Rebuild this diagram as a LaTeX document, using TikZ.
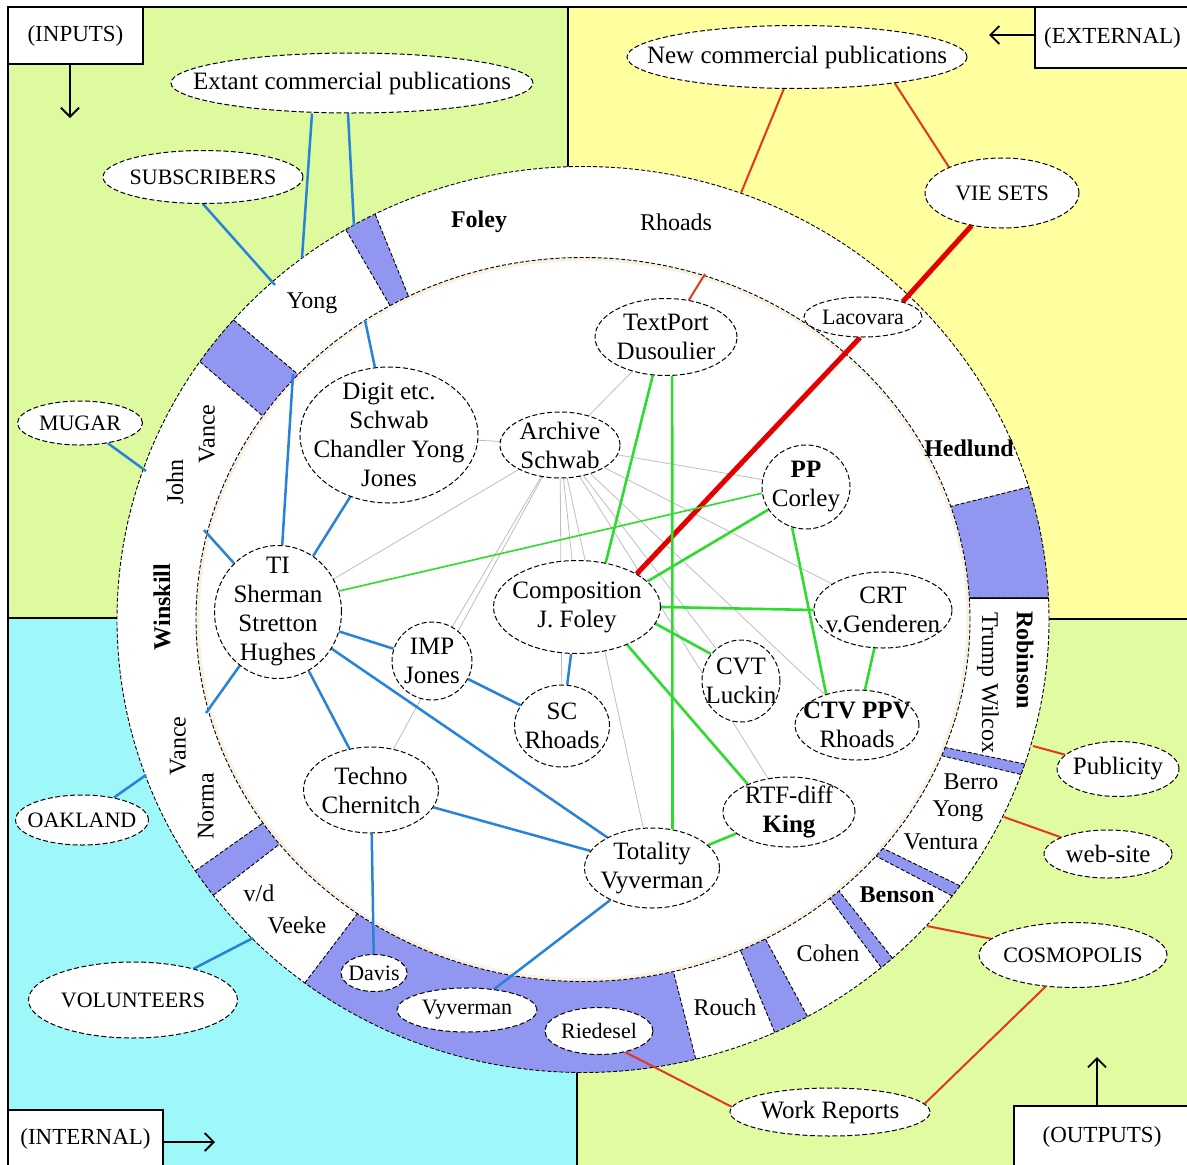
\documentclass[tikz,border=0pt]{standalone}
\usepackage{fontspec}
\setmainfont{Liberation Serif}
\usetikzlibrary{shapes.geometric,arrows.meta}
\pgfdeclarelayer{back}
\pgfdeclarelayer{mid}
\pgfsetlayers{back,mid,main}
\definecolor{qgreen}{RGB}{221,250,158}
\definecolor{qgreenb}{RGB}{224,251,160}
\definecolor{qyellow}{RGB}{255,255,160}
\definecolor{qcyan}{RGB}{158,248,250}
\definecolor{segblue}{RGB}{145,150,240}
\definecolor{eblue}{RGB}{40,130,215}
\definecolor{ered}{RGB}{228,55,30}
\definecolor{ethick}{RGB}{228,0,0}
\definecolor{egreen}{RGB}{45,220,45}
\definecolor{egrey}{RGB}{190,190,190}
\definecolor{glowc}{RGB}{250,240,226}
\newcommand\ringseg[4]{%
 \fill[segblue] (#1:466pt and 453pt) arc[start angle=#1,end angle=#2,x radius=466pt,y radius=453pt] -- (#4:387pt and 362pt) arc[start angle=#4,end angle=#3,x radius=387pt,y radius=362pt] -- cycle;
 \draw[ringline] (#1:466pt and 453pt) -- (#3:387pt and 362pt);
 \draw[ringline] (#2:466pt and 453pt) -- (#4:387pt and 362pt);}
\newcommand\ovnode[7]{%
 \node[oval,minimum width=#4pt,minimum height=#5pt] (#1) at (#2,#3) {};
 \node[#6] (#1-t) at (#1) {#7};}
\begin{document}
\begin{tikzpicture}[x=1pt,y=-1pt,
 oval/.style={ellipse,draw,fill=white,inner sep=0pt,line width=1pt,dash pattern=on 5pt off 2.5pt},
 lab/.style={font=\fontsize{25}{29}\selectfont,align=center,inner sep=0pt},
 rlab/.style={font=\fontsize{24}{29}\selectfont,align=center,inner sep=0pt},
 capl/.style={font=\fontsize{22}{26}\selectfont,align=center,inner sep=0pt},
 small/.style={font=\fontsize{22}{26}\selectfont,align=center,inner sep=0pt},
 ringline/.style={draw=black,line width=0.9pt,dash pattern=on 4pt off 2pt},
 box/.style={draw,fill=white,line width=1.4pt,font=\fontsize{23}{27}\selectfont,inner sep=0pt},
 arr/.style={line width=1.8pt,-{Straight Barb[length=9pt,width=18pt]}},
 bl/.style={draw=eblue,line width=2.5pt},
 rd/.style={draw=ered,line width=2pt},
 rdthick/.style={draw=ethick,line width=5pt},
 gr/.style={draw=egreen,line width=2.6pt},
 grthin/.style={draw=egreen,line width=1.6pt},
 gy/.style={draw=egrey,line width=0.8pt}]
\useasboundingbox (0,0) rectangle (1187,1165);
\begin{pgfonlayer}{back}
\fill[white] (0,0) rectangle (1187,1165);
\fill[qgreen] (8,7) rectangle (568,618);
\fill[qyellow] (568,7) rectangle (1190,619);
\fill[qcyan] (8,618) rectangle (577,1170);
\fill[qgreenb] (577,619) rectangle (1190,1170);
\draw[line width=1.5pt] (8,1170) -- (8,7) -- (1190,7);
\draw[line width=1.2pt] (568,7) -- (568,400);
\draw[line width=1.2pt] (8,618) -- (400,618);
\draw[line width=1.2pt] (800,619) -- (1190,619);
\draw[line width=1.2pt] (577,800) -- (577,1170);
\begin{scope}[shift={(583,619.5)}]
 \fill[white] (0,0) ellipse[x radius=466pt,y radius=453pt];
 \ringseg{116.5}{120.6}{116.8}{119.9}
 \ringseg{138.6}{145.3}{137.4}{145.8}
 \ringseg{2.7}{17}{3.4}{18.2}
 \ringseg{-20}{-18.6}{-22.1}{-20.7}
 \ringseg{-37.6}{-36}{-40.8}{-39.2}
 \ringseg{-50.2}{-48.4}{-50.4}{-48.6}
 \ringseg{-65.7}{-61.2}{-66}{-61.9}
 \ringseg{-126.65}{-76}{-125.65}{-76.5}
 \ringseg{-146.3}{-142.5}{-145.8}{-141.65}
 \draw[line width=1.5pt] (2.7:466pt and 453pt) -- (3.4:387pt and 362pt);
 \fill[white] (0,0) ellipse[x radius=387pt,y radius=362pt];
 \draw[glowc,line width=3pt] (0,0) ellipse[x radius=385pt,y radius=360pt];
 \draw[ringline] (0,0) ellipse[x radius=387pt,y radius=362pt];
 \draw[ringline] (0,0) ellipse[x radius=466pt,y radius=453pt];
\end{scope}
\end{pgfonlayer}
% ring anchor points
\coordinate (r1) at (275,285);
\coordinate (r2) at (302,258);
\coordinate (r3) at (354,226);
\coordinate (r4) at (365,320);
\coordinate (r5) at (293,374);
\coordinate (r7) at (204,530);
\coordinate (r8) at (206,713);
\coordinate (r17) at (146,471);
\coordinate (r18) at (146,775);
\coordinate (r19) at (253,938);
\coordinate (r20) at (741,193);
\coordinate (r23) at (705,274);
\coordinate (r24) at (1033,746);
\coordinate (r25) at (1004,817);
\coordinate (r26) at (927,926);
% corner boxes
\node[box,minimum width=135pt,minimum height=57pt] (inputs) at (75.5,35.5) {(INPUTS)};
\node[box,minimum width=155pt,minimum height=61pt] (external) at (1112.5,37.5) {(EXTERNAL)};
\node[box,minimum width=155pt,minimum height=58pt] (internal) at (85.5,1139) {(INTERNAL)};
\node[box,minimum width=176pt,minimum height=62pt] (outputs) at (1102,1137) {(OUTPUTS)};
\coordinate (inTip) at (70,118);
\coordinate (exTip) at (989,35);
\coordinate (itTip) at (215,1142);
\coordinate (ouTip) at (1097,1057);
\draw[arr] (inputs.south -| inTip) -- (inTip);
\draw[arr] (external.west |- exTip) -- (exTip);
\draw[arr] (internal.east |- itTip) -- (itTip);
\draw[arr] (outputs.north -| ouTip) -- (ouTip);
% outer ovals
\ovnode{ext}{352}{83}{362}{60}{lab}{Extant commercial publications}
\ovnode{subs}{203}{177}{200}{53}{capl}{SUBSCRIBERS}
\ovnode{newc}{797}{57}{340}{63}{lab}{New commercial publications}
\ovnode{vie}{1002}{193}{154}{70}{capl}{VIE SETS}
\ovnode{mugar}{80}{423}{125}{44}{capl}{MUGAR}
\ovnode{oak}{82}{820}{133}{50}{capl}{OAKLAND}
\ovnode{vol}{133}{1000}{209}{76}{capl}{VOLUNTEERS}
\ovnode{pub}{1118}{769}{122}{55}{lab}{Publicity}
\ovnode{web}{1108}{854}{128}{48}{lab}{web-site}
\ovnode{cosmo}{1073}{955}{188}{65}{capl}{COSMOPOLIS}
\ovnode{work}{830}{1112}{200}{48}{lab}{Work Reports}
% inner ovals
\ovnode{textport}{666}{337}{142}{77}{lab}{TextPort\\Dusoulier}
\ovnode{lacovara}{863}{317}{118}{40}{small}{Lacovara}
\ovnode{digit}{389}{435}{178}{136}{lab}{Digit etc.\\Schwab\\Chandler Yong\\Jones}
\ovnode{archive}{560}{445}{120}{66}{lab}{Archive\\Schwab}
\ovnode{pp}{806}{487}{88}{84}{lab}{\textbf{PP}\\Corley}
\ovnode{ti}{278}{612}{127}{133}{lab}{TI\\Sherman\\Stretton\\Hughes}
\ovnode{comp}{577}{607}{167}{93}{lab}{Composition\\J. Foley}
\ovnode{crt}{883}{610}{138}{76}{lab}{CRT\\v.Genderen}
\ovnode{imp}{432}{661}{80}{78}{lab}{IMP\\Jones}
\ovnode{sc}{562}{726}{95}{82}{lab}{SC\\Rhoads}
\ovnode{cvt}{741}{681}{78}{82}{lab}{CVT\\Luckin}
\ovnode{ctv}{857}{725}{124}{70}{lab}{\textbf{CTV PPV}\\Rhoads}
\ovnode{techno}{371}{790}{135}{86}{lab}{Techno\\Chernitch}
\ovnode{rtf}{789}{812}{132}{70}{lab}{RTF-diff\\\textbf{King}}
\ovnode{totality}{652}{868}{135}{80}{lab}{Totality\\Vyverman}
\ovnode{davis}{374}{973}{66}{37}{small}{Davis}
\ovnode{vyv}{467}{1010}{140}{44}{small}{Vyverman}
\ovnode{ried}{599}{1031}{108}{47}{small}{Riedesel}
% ring labels
\node[rlab] (lFoley) at (479,222) {\textbf{Foley}};
\node[rlab] (lRhoads) at (676,222) {Rhoads};
\node[rlab] (lYong1) at (312,303) {Yong};
\node[rlab] (lHed) at (969,448) {\textbf{Hedlund}};
\node[rlab,rotate=90] (lVance1) at (207,434) {Vance};
\node[rlab,rotate=90] (lJohn) at (175,482) {John};
\node[rlab,rotate=90] (lWin) at (162,607) {\textbf{Winskill}};
\node[rlab,rotate=90] (lVance2) at (178,746) {Vance};
\node[rlab,rotate=90] (lNorma) at (206,806) {Norma};
\node[rlab] (lvd) at (259,893) {v/d};
\node[rlab] (lVeeke) at (297,925) {Veeke};
\node[rlab,rotate=-90] (lRob) at (1025,660) {\textbf{Robinson}};
\node[rlab,rotate=-90] (lTW) at (988,683) {Trump Wilcox};
\node[rlab] (lBerro) at (971,782) {Berro};
\node[rlab] (lYong2) at (958,811) {Yong};
\node[rlab] (lVent) at (941,842) {Ventura};
\node[rlab] (lBenson) at (897,895) {\textbf{Benson}};
\node[rlab] (lCohen) at (828,953) {Cohen};
\node[rlab] (lRouch) at (725,1007) {Rouch};
% connectors
\begin{pgfonlayer}{mid}
\foreach \n in {digit,textport,ti,imp,techno,sc,comp,totality,cvt,rtf,ctv,crt,pp}
  \draw[gy] (archive) -- (\n);
\draw[bl] (subs.south) -- (r1);
\draw[bl] ([xshift=-40pt]ext.south) -- (r2);
\draw[bl] ([xshift=-4pt]ext.south) -- (r3);
\draw[bl] (r4) -- (digit);
\draw[bl] (r5) -- (ti);
\draw[bl] (r7) -- (ti);
\draw[bl] (r8) -- (ti);
\draw[bl] (ti) -- (digit);
\draw[bl] (ti) -- (techno);
\draw[bl] (ti) -- (imp);
\draw[bl] (ti) -- (totality);
\draw[bl] (imp) -- (sc);
\draw[bl] (comp) -- (sc);
\draw[bl] (techno) -- (totality);
\draw[bl] (techno) -- (davis);
\draw[bl] (totality) -- (vyv);
\draw[bl] (mugar) -- (r17);
\draw[bl] (oak) -- (r18);
\draw[bl] (vol) -- (r19);
\draw[rd] (newc) -- (r20);
\draw[rd] (newc.-15) -- (vie.154);
\draw[rd] (textport) -- (r23);
\draw[rd] (pub) -- (r24);
\draw[rd] (web) -- (r25);
\draw[rd] (cosmo) -- (r26);
\draw[rd] (cosmo.229) -- (work.5);
\draw[rd] (ried.-39) -- (work.177);
\draw[rdthick] (vie.227) -- (lacovara.21);
\draw[rdthick] (lacovara.-98) -- (comp.29);
\draw[gr] (textport.-109) -- (comp.57);
\draw[gr] (textport.-81) -- (totality.62);
\draw[grthin] (ti.19) -- (pp.188);
\draw[gr] (comp.20) -- (pp.211);
\draw[gr] (comp.east) -- (crt.west);
\draw[gr] (comp.-12) -- (cvt.138);
\draw[gr] (comp.-37) -- (rtf.146);
\draw[gr] (pp.-109) -- (ctv.135);
\draw[gr] (crt) -- (ctv);
\draw[gr] (rtf) -- (totality);
\end{pgfonlayer}
\end{tikzpicture}
\end{document}
